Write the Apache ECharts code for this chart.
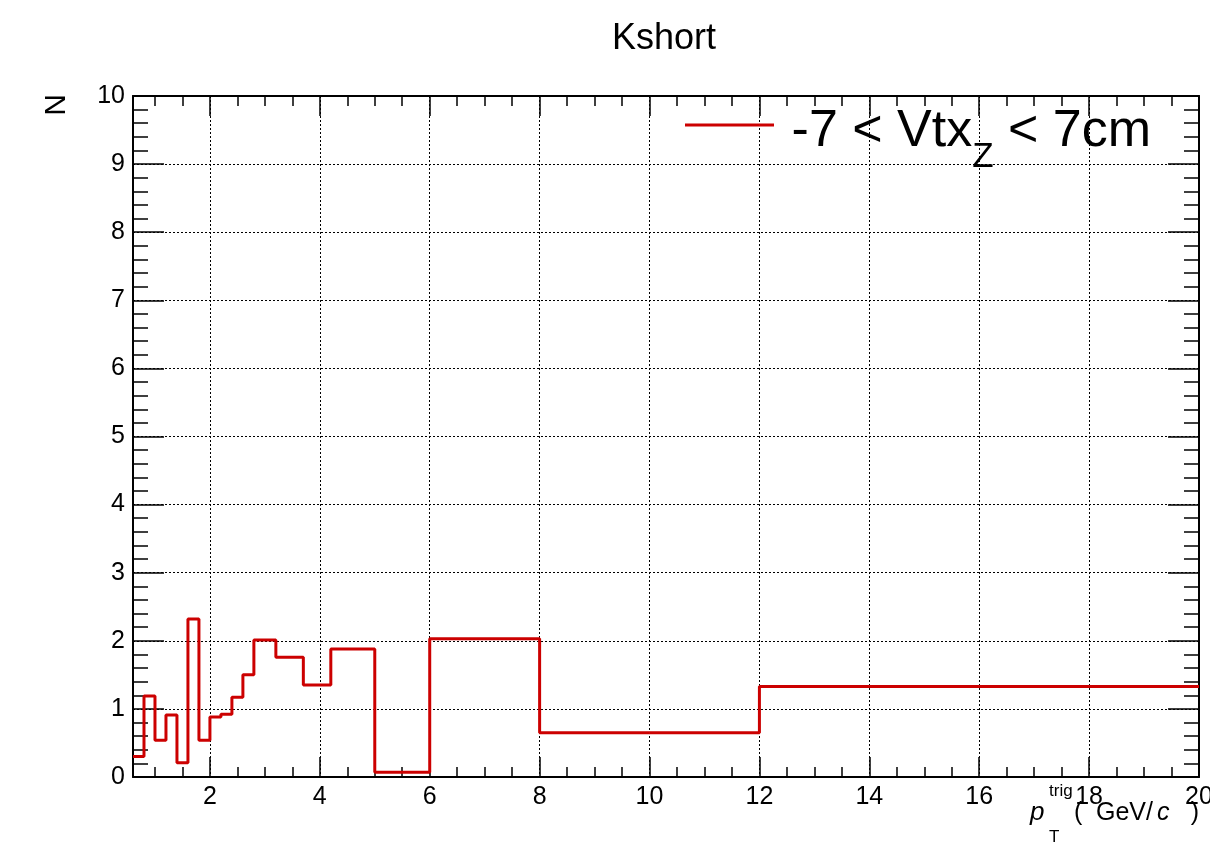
<!DOCTYPE html>
<html>
<head>
<meta charset="utf-8">
<script src="https://cdn.jsdelivr.net/npm/echarts@6/dist/echarts.min.js"></script>
<style>
  html, body { margin: 0; padding: 0; background: #ffffff; }
  #chart { width: 1210px; height: 846px; }
</style>
</head>
<body>
<div id="chart"></div>
<script>
// Histogram bin edges (pT trig, GeV/c) and per-bin contents
const binEdges = [0.6, 0.8, 1.0, 1.2, 1.4, 1.6, 1.8, 2.0, 2.2, 2.4, 2.6, 2.8, 3.2, 3.7, 4.2, 5.0, 6.0, 8.0, 12.0, 20.0];
const binCounts = [0.30, 1.19, 0.54, 0.91, 0.21, 2.32, 0.54, 0.88, 0.92, 1.17, 1.50, 2.01, 1.76, 1.35, 1.88, 0.07, 2.03, 0.65, 1.33];

// Axis ticks
const xMajorTicks = [2, 4, 6, 8, 10, 12, 14, 16, 18, 20];
const xMinorTicks = [1, 1.5, 2.5, 3, 3.5, 4.5, 5, 5.5, 6.5, 7, 7.5, 8.5, 9, 9.5, 10.5, 11, 11.5,
                     12.5, 13, 13.5, 14.5, 15, 15.5, 16.5, 17, 17.5, 18.5, 19, 19.5];
const xRange = [0.6, 20];
const yRange = [0, 10];
const yStep = 1;

const seriesName = '-7 < Vtx_Z < 7cm';
const RED = '#cc0000';
const FONT = '"Liberation Sans", Arial, Helvetica, sans-serif';
const BLACK = '#000000';

// Step outline: each edge carries the content of the bin that starts there,
// the last edge repeats the last bin content.
const histPoints = binEdges.map((e, i) => [e, binCounts[Math.min(i, binCounts.length - 1)]]);

const frameLine = { show: true, lineStyle: { color: BLACK, width: 2 } };
const dotted = { show: true, lineStyle: { color: BLACK, width: 1, type: [2, 2] } };

function xAxisDef(position, ticks, len, withLabels, withGrid, withLine) {
  return {
    type: 'value', position: position, min: xRange[0], max: xRange[1],
    axisLine: withLine ? frameLine : { show: false },
    axisTick: { show: true, inside: true, length: len, customValues: ticks,
                lineStyle: { color: BLACK, width: 1.5 } },
    minorTick: { show: false },
    axisLabel: withLabels
      ? { show: true, customValues: ticks, fontSize: 25, color: BLACK, fontFamily: FONT, margin: 8 }
      : { show: false },
    splitLine: withGrid ? dotted : { show: false }
  };
}

function yAxisDef(position, withLabels, withGrid) {
  return {
    type: 'value', position: position, min: yRange[0], max: yRange[1], interval: yStep,
    axisLine: frameLine,
    axisTick: { show: true, inside: true, length: 31, lineStyle: { color: BLACK, width: 1.5 } },
    minorTick: { show: true, splitNumber: 5, length: 15, lineStyle: { color: BLACK, width: 1.5 } },
    axisLabel: withLabels
      ? { show: true, fontSize: 25, color: BLACK, fontFamily: FONT, margin: 8 }
      : { show: false },
    splitLine: withGrid ? dotted : { show: false }
  };
}

const chart = echarts.init(document.getElementById('chart'), null, { renderer: 'canvas' });

chart.setOption({
  animation: false,
  backgroundColor: '#ffffff',
  title: {
    text: 'Kshort', left: 612, top: 21, padding: 0,
    textStyle: { fontSize: 36, fontWeight: 'normal', color: BLACK, fontFamily: FONT }
  },
  legend: {
    left: 685, top: 106, padding: 0,
    icon: 'rect', itemWidth: 89, itemHeight: 3,
    selectedMode: false,
    data: [seriesName],
    formatter: () => '{m0|-7 < Vtx}{sub|Z}{m| < 7cm}',
    textStyle: {
      color: BLACK, fontFamily: FONT, fontSize: 52,
      rich: {
        m0: { fontSize: 52, fontFamily: FONT, color: BLACK, verticalAlign: 'middle', padding: [14, 0, 0, 12.6] },
        m: { fontSize: 52, fontFamily: FONT, color: BLACK, verticalAlign: 'middle', padding: [14, 0, 0, 0] },
        sub: { fontSize: 35, fontFamily: FONT, color: BLACK, verticalAlign: 'middle', padding: [64, 0, 0, 0] }
      }
    }
  },
  grid: { left: 133, right: 11, top: 96, bottom: 69, containLabel: false, outerBoundsMode: 'none' },
  xAxis: [
    xAxisDef('bottom', xMajorTicks, 20, true, true, true),
    xAxisDef('bottom', xMinorTicks, 10, false, false, false),
    xAxisDef('top', xMajorTicks, 20, false, false, true),
    xAxisDef('top', xMinorTicks, 10, false, false, false)
  ],
  yAxis: [
    yAxisDef('left', true, true),
    yAxisDef('right', false, false)
  ],
  series: [{
    name: seriesName,
    type: 'line',
    xAxisIndex: 0, yAxisIndex: 0,
    step: 'end',
    symbol: 'none',
    color: RED,
    itemStyle: { color: RED },
    lineStyle: { color: RED, width: 3 },
    data: histPoints,
    z: 3
  }],
  graphic: [
    // y-axis title
    { type: 'text', x: 57, y: 105, rotation: Math.PI / 2,
      style: { text: 'N', fontSize: 30, fontFamily: FONT, fill: BLACK, align: 'center', verticalAlign: 'middle' } },
    // x-axis title: p_T^trig ( GeV/c )
    { type: 'text', x: 1030, y: 813,
      style: { text: 'p', fontSize: 26, fontStyle: 'italic', fontFamily: FONT, fill: BLACK, align: 'left', verticalAlign: 'middle' } },
    { type: 'text', x: 1049, y: 791,
      style: { text: 'trig', fontSize: 17, fontFamily: FONT, fill: BLACK, align: 'left', verticalAlign: 'middle' } },
    { type: 'text', x: 1049, y: 837,
      style: { text: 'T', fontSize: 17, fontFamily: FONT, fill: BLACK, align: 'left', verticalAlign: 'middle' } },
    { type: 'text', x: 1074, y: 813,
      style: { text: '(', fontSize: 25, fontFamily: FONT, fill: BLACK, align: 'left', verticalAlign: 'middle' } },
    { type: 'text', x: 1096, y: 813,
      style: { text: 'GeV/', fontSize: 25, fontFamily: FONT, fill: BLACK, align: 'left', verticalAlign: 'middle' } },
    { type: 'text', x: 1157, y: 813,
      style: { text: 'c', fontSize: 25, fontStyle: 'italic', fontFamily: FONT, fill: BLACK, align: 'left', verticalAlign: 'middle' } },
    { type: 'text', x: 1199, y: 813,
      style: { text: ')', fontSize: 25, fontFamily: FONT, fill: BLACK, align: 'right', verticalAlign: 'middle' } }
  ]
});
</script>
</body>
</html>
